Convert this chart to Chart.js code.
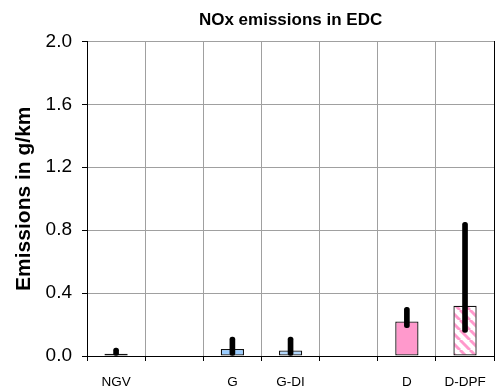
<!DOCTYPE html>
<html>
<head>
<meta charset="utf-8">
<script src="https://cdn.jsdelivr.net/npm/chart.js@4.4.1/dist/chart.umd.min.js"></script>
<style>
  html, body { margin: 0; padding: 0; background: #fff; }
  #wrap { width: 499px; height: 391px; }
</style>
</head>
<body>
<div id="wrap"><canvas id="grafica"></canvas></div>
<script>
// Datos
const categorias = ["NGV", "", "G", "G-DI", "", "D", "D-DPF"];
const emisiones = [0.015, null, 0.045, 0.035, null, 0.22, 0.32];
const errorBajo = [0.0, null, 0.0, 0.0, null, 0.18, 0.15];
const errorAlto = [0.05, null, 0.12, 0.12, null, 0.31, 0.85];
const ticksY = [0, 0.4, 0.8, 1.2, 1.6, 2.0];

// Rayado rosa/blanco para D-DPF
function crearRayado() {
  const c = document.createElement("canvas");
  c.width = 10;
  c.height = 10;
  const g = c.getContext("2d");
  g.fillStyle = "#fff";
  g.fillRect(0, 0, 10, 10);
  g.strokeStyle = "#ff99cc";
  g.lineWidth = 3;
  for (let x0 = -10; x0 <= 10; x0 += 10) {
    g.beginPath();
    g.moveTo(x0, 0);
    g.lineTo(x0 + 10, 10);
    g.stroke();
  }
  return g.createPattern(c, "repeat");
}

const colores = ["#4cc4c4", "#fff", "#99ccff", "#b3d7fb", "#fff", "#ff99cc", crearRayado()];

const rangos = errorBajo.map((b, i) => (b === null ? null : [b, errorAlto[i]]));

const fuente = "Liberation Sans, Arial";

new Chart(document.getElementById("grafica"), {
  type: "bar",
  data: {
    labels: categorias,
    datasets: [
      {
        label: "error",
        data: rangos,
        backgroundColor: "#000",
        barThickness: 5,
        borderRadius: 3,
        borderSkipped: false,
        grouped: false,
        order: 0,
      },
      {
        label: "NOx",
        data: emisiones,
        backgroundColor: colores,
        borderColor: "#111",
        borderWidth: 1.3,
        borderSkipped: false,
        categoryPercentage: 1,
        barPercentage: 0.4,
        grouped: false,
        order: 1,
      },
    ],
  },
  options: {
    responsive: true,
    maintainAspectRatio: false,
    animation: false,
    layout: { padding: { left: 12, right: 0, top: 0, bottom: 0 } },
    plugins: {
      legend: { display: false },
      tooltip: { enabled: false },
      title: {
        display: true,
        text: "NOx emissions in EDC",
        color: "#000",
        fullSize: false,
        font: { family: fuente, size: 17, weight: "bold" },
        padding: { top: 10, bottom: 11 },
      },
    },
    scales: {
      x: {
        afterFit: (a) => { a.height = 35; },
        grid: { color: "#a0a0a0", tickColor: "#000", tickLength: 5, offset: true },
        border: { color: "#000", width: 1 },
        ticks: {
          color: "#000",
          padding: 13,
          maxRotation: 0,
          autoSkip: false,
          font: { family: fuente, size: 13.5 },
        },
      },
      y: {
        min: 0,
        max: 2,
        afterFit: (a) => { a.width = 75; },
        afterBuildTicks: (axis) => {
          axis.ticks = ticksY.map((v) => ({ value: v }));
        },
        grid: { color: "#a0a0a0", tickColor: "#000", tickLength: 5 },
        border: { color: "#000", width: 1 },
        ticks: {
          color: "#000",
          padding: 10,
          font: { family: fuente, size: 19 },
          callback: (v) => Number(v).toFixed(1),
        },
        title: {
          display: true,
          text: "Emissions in g/km",
          color: "#000",
          font: { family: fuente, size: 21, weight: "bold" },
          padding: { top: 0, bottom: 4 },
        },
      },
      y2: {
        position: "right",
        min: 0,
        max: 2,
        afterFit: (a) => { a.width = 4; },
        grid: { display: false },
        border: { color: "#000", width: 1 },
        ticks: { display: false },
      },
    },
  },
});
</script>
</body>
</html>
